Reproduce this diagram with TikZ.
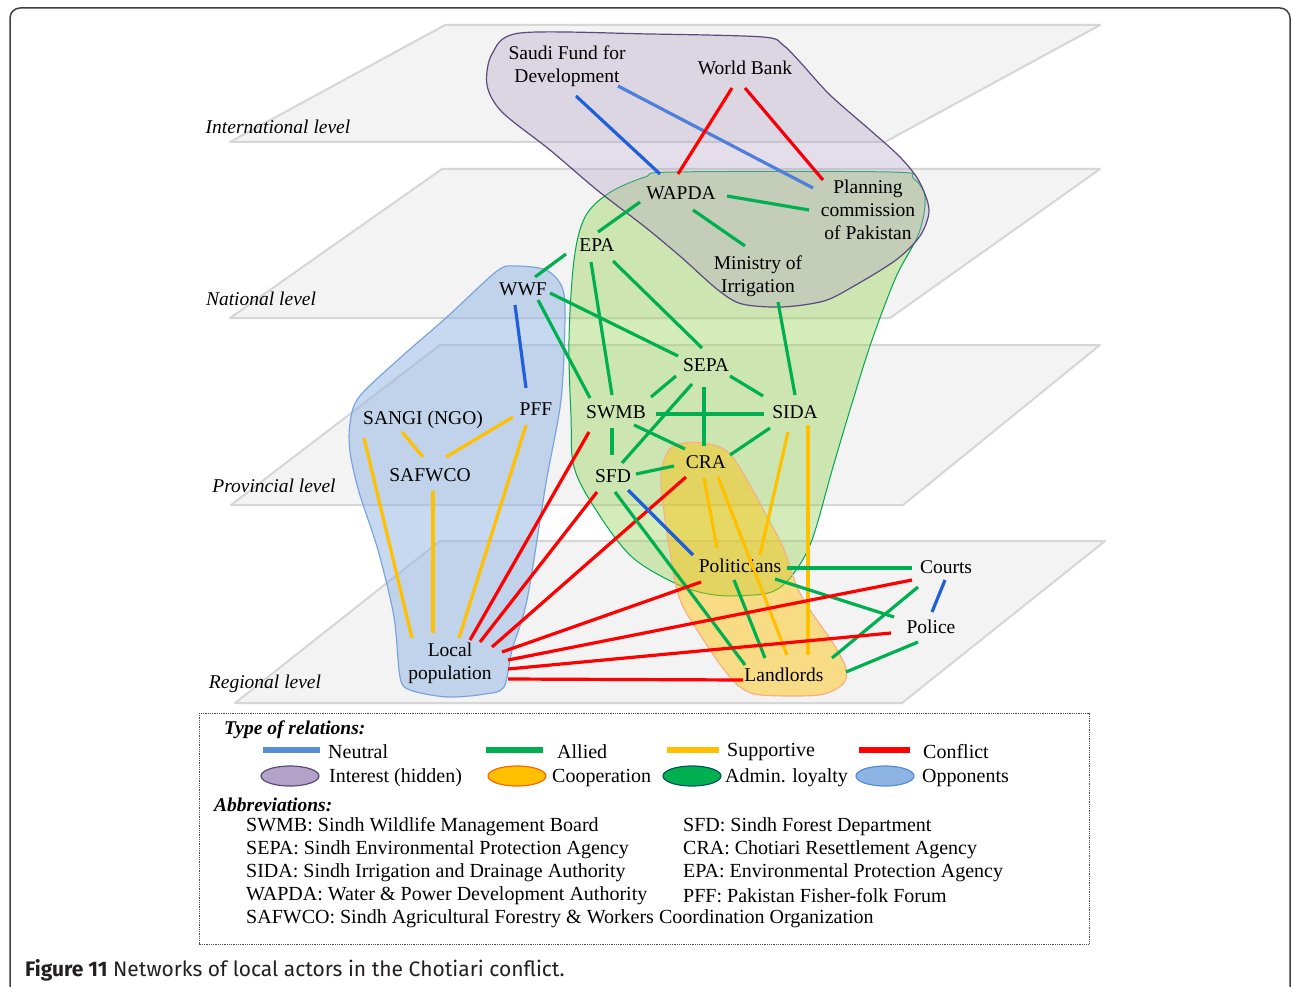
\documentclass[tikz,border=0pt]{standalone}
\usepackage{fontspec}
\setmainfont{Liberation Serif}
\newfontfamily\capfont{Fira Sans}
\definecolor{planefill}{HTML}{F3F3F3}
\definecolor{planeline}{HTML}{D6D6D6}
\definecolor{cgreen}{HTML}{00B050}
\definecolor{corange}{HTML}{FFC000}
\definecolor{cred}{HTML}{FF0000}
\definecolor{cblue}{HTML}{1F5FD8}
\definecolor{cbluetwo}{HTML}{4F7FD8}
\definecolor{legblue}{HTML}{558ED5}
\definecolor{purplefill}{HTML}{B3A2C7}
\definecolor{purpleline}{HTML}{5B4A7D}
\definecolor{greenfill}{HTML}{92D050}
\definecolor{greenline}{HTML}{00A650}
\definecolor{bluefill}{HTML}{8EB4E3}
\definecolor{blueline}{HTML}{7AA5DC}
\definecolor{orangefill}{HTML}{FFC000}
\definecolor{orangeline}{HTML}{F4B183}
\definecolor{framegray}{HTML}{404040}
\definecolor{capgray}{HTML}{231F20}
\begin{document}
\begin{tikzpicture}[x=1pt,y=-1pt,
  actor/.style={font=\fontsize{19.5}{23}\selectfont, align=center, inner sep=0pt},
  lvl/.style={font=\fontsize{19.5}{23}\selectfont\itshape, inner sep=0pt},
  legtext/.style={font=\fontsize{20}{23}\selectfont, anchor=west, inner sep=0pt},
  plane/.style={fill=planefill, draw=planeline, line width=2pt, line join=round},
  al/.style={draw=cgreen, line width=3.2pt},
  sp/.style={draw=corange, line width=3.2pt},
  cf/.style={draw=cred, line width=3.2pt},
  nt/.style={draw=cblue, line width=3.2pt},
  legline/.style={line width=6pt}]
\useasboundingbox (0,0) rectangle (1292,987);
\fill[white] (0,0) rectangle (1292,987);
\begin{scope}
\clip (0,0) rectangle (1292,987);
\draw[line width=1.5pt, draw=framegray, rounded corners=10pt] (10,8) rectangle (1290,1020);
\end{scope}

% planes
\filldraw[plane] (445,25) -- (1100,25) -- (885,142) -- (230,142) -- cycle;
\filldraw[plane] (442,169) -- (1100,169) -- (890,318) -- (230,318) -- cycle;
\filldraw[plane] (440,345) -- (1100,345) -- (903,505) -- (231,505) -- cycle;
\filldraw[plane] (440,541) -- (1105,541) -- (902,703) -- (235,703) -- cycle;

\node[lvl] (lint) at (278,127) {International level};
\node[lvl] (lnat) at (261,299) {National level};
\node[lvl] (lprov) at (274,486) {Provincial level};
\node[lvl] (lreg) at (265,684) {Regional level};

% blobs
\filldraw[fill=greenfill, fill opacity=0.4, draw=greenline, line width=1pt]
  plot[smooth cycle, tension=0.55] coordinates {(574,260) (585,217) (609,193) (645,177) (675,172) (890,172) (913,178) (925,197) (919,233) (896,277) (872,340) (853,400) (833,467) (812,540) (794,573) (776,590) (754,595) (715,595) (679,585) (632,557) (596,510) (574,467) (571,417) (569,340)};
\filldraw[fill=purplefill, fill opacity=0.35, draw=purpleline, line width=1.2pt]
  plot[smooth cycle, tension=0.5] coordinates {(492,54) (520,33) (650,34) (763,37) (783,45) (800,62) (830,95) (870,130) (900,157) (919,181) (929,210) (920,236) (896,260) (854,286) (824,301) (782,307) (742,304) (718,290) (681,257) (645,227) (597,190) (550,150) (502,112) (487,85)};
\filldraw[fill=bluefill, fill opacity=0.5, draw=blueline, line width=1.2pt]
  plot[smooth cycle, tension=0.5] coordinates {(516,266) (497,271) (447,317) (400,358) (359,397) (350,423) (350,452) (359,492) (378,550) (394,617) (400,677) (410,690) (447,697) (485,694) (504,687) (512,650) (527,600) (546,483) (561,400) (565,317) (562,287) (546,270)};
\filldraw[fill=orangefill, fill opacity=0.45, draw=orangeline, line width=1.2pt]
  plot[smooth cycle, tension=0.5] coordinates {(675,445) (704,443) (729,453) (751,487) (765,513) (783,547) (797,587) (812,613) (833,643) (846,668) (843,684) (819,695) (761,695) (740,687) (722,667) (697,630) (679,597) (668,540) (661,483) (664,460)};

% actors
\node[actor] (saudi) at (567,66) {Saudi Fund for\\Development};
\node[actor] (wb) at (745,68) {World Bank};
\node[actor] (wapda) at (681,193) {WAPDA};
\node[actor] (plan) at (868,210) {Planning\\commission\\of Pakistan};
\node[actor] (epa) at (597,245) {EPA};
\node[actor] (min) at (758,276) {Ministry of\\Irrigation};
\node[actor] (wwf) at (523,289) {WWF};
\node[actor] (sepa) at (706,365) {SEPA};
\node[actor] (pff) at (536,409) {PFF};
\node[actor] (sangi) at (423,420) {SANGI (NGO)};
\node[actor] (swmb) at (616,412) {SWMB};
\node[actor] (sida) at (795,412) {SIDA};
\node[actor] (safwco) at (430,475) {SAFWCO};
\node[actor] (sfd) at (613,476) {SFD};
\node[actor] (cra) at (706,462) {CRA};
\node[actor] (pol) at (740,566) {Politicians};
\node[actor] (courts) at (946,567) {Courts};
\node[actor] (police) at (931,627) {Police};
\node[actor] (local) at (450,663) {Local\\population};
\node[actor] (land) at (784,675) {Landlords};

% connectors
\draw[nt] ([shift={(9,30)}]saudi.center) -- ([shift={(-21,-19)}]wapda.center);
\draw[nt, draw=cbluetwo] ([shift={(51,20)}]saudi.center) -- ([shift={(-55,-22)}]plan.center);
\draw[cf] ([shift={(-13,20)}]wb.center) -- ([shift={(-3,-19)}]wapda.center);
\draw[cf, draw=red!85!purple] ([shift={(0,20)}]wb.center) -- ([shift={(-45,-30)}]plan.center);
\draw[al] ([shift={(46,3)}]wapda.center) -- ([shift={(-59,0)}]plan.center);
\draw[al] ([shift={(12,17)}]wapda.center) -- ([shift={(-13,-30)}]min.center);
\draw[al] ([shift={(-41,9)}]wapda.center) -- ([shift={(1,-13)}]epa.center);
\draw[al] ([shift={(-31,9)}]epa.center) -- ([shift={(12,-12)}]wwf.center);
\draw[al] ([shift={(-6,17)}]epa.center) -- ([shift={(-4,-17)}]swmb.center);
\draw[al] ([shift={(16,16)}]epa.center) -- ([shift={(-4,-17)}]sepa.center);
\draw[al] ([shift={(20,26)}]min.center) -- ([shift={(0,-17)}]sida.center);
\draw[nt] ([shift={(-8,16)}]wwf.center) -- ([shift={(-10,-21)}]pff.center);
\draw[al] ([shift={(15,11)}]wwf.center) -- ([shift={(-26,-14)}]swmb.center);
\draw[al] ([shift={(27,4)}]wwf.center) -- ([shift={(-28,-9)}]sepa.center);
\draw[al] ([shift={(-30,11)}]sepa.center) -- ([shift={(35,-15)}]swmb.center);
\draw[al] ([shift={(-14,19)}]sepa.center) -- ([shift={(9,-13)}]sfd.center);
\draw[al] ([shift={(-2,22)}]sepa.center) -- ([shift={(-2,-16)}]cra.center);
\draw[al] ([shift={(24,11)}]sepa.center) -- ([shift={(-32,-16)}]sida.center);
\draw[al] ([shift={(40,2)}]swmb.center) -- ([shift={(-31,2)}]sida.center);
\draw[al] ([shift={(-4,16)}]swmb.center) -- ([shift={(-1,-21)}]sfd.center);
\draw[al] ([shift={(18,13)}]swmb.center) -- ([shift={(-21,-13)}]cra.center);
\draw[al] ([shift={(-25,16)}]sida.center) -- ([shift={(24,-7)}]cra.center);
\draw[al] ([shift={(23,-2)}]sfd.center) -- ([shift={(-32,4)}]cra.center);
\draw[sp] ([shift={(-21,12)}]sangi.center) -- ([shift={(-7,-18)}]safwco.center);
\draw[sp] ([shift={(-23,8)}]pff.center) -- ([shift={(16,-18)}]safwco.center);
\draw[sp] ([shift={(-59,18)}]sangi.center) -- ([shift={(-38,-25)}]local.center);
\draw[sp] ([shift={(3,16)}]safwco.center) -- ([shift={(-17,-30)}]local.center);
\draw[sp] ([shift={(-10,16)}]pff.center) -- ([shift={(9,-25)}]local.center);
\draw[cf] ([shift={(-27,20)}]swmb.center) -- ([shift={(20,-23)}]local.center);
\draw[cf] ([shift={(-16,16)}]sfd.center) -- ([shift={(30,-21)}]local.center);
\draw[cf] ([shift={(-20,15)}]cra.center) -- ([shift={(42,-16)}]local.center);
\draw[nt] ([shift={(15,14)}]sfd.center) -- ([shift={(-47,-11)}]pol.center);
\draw[al] ([shift={(2,16)}]sfd.center) -- ([shift={(-39,-10)}]land.center);
\draw[sp] ([shift={(-2,16)}]cra.center) -- ([shift={(-23,-18)}]pol.center);
\draw[sp] ([shift={(12,15)}]cra.center) -- ([shift={(3,-20)}]land.center);
\draw[sp] ([shift={(-7,20)}]sida.center) -- ([shift={(20,-11)}]pol.center);
\draw[sp] ([shift={(13,13)}]sida.center) -- ([shift={(24,-20)}]land.center);
\draw[al] ([shift={(47,2)}]pol.center) -- ([shift={(-34,1)}]courts.center);
\draw[al] ([shift={(-6,14)}]pol.center) -- ([shift={(-19,-17)}]land.center);
\draw[al] ([shift={(35,13)}]pol.center) -- ([shift={(-37,-10)}]police.center);
\draw[nt] ([shift={(-1,13)}]courts.center) -- ([shift={(1,-15)}]police.center);
\draw[al] ([shift={(-28,20)}]courts.center) -- ([shift={(48,-17)}]land.center);
\draw[al] ([shift={(-13,15)}]police.center) -- ([shift={(62,-3)}]land.center);
\draw[cf] ([shift={(-39,16)}]pol.center) -- ([shift={(52,-11)}]local.center);
\draw[cf] ([shift={(-34,13)}]courts.center) -- ([shift={(58,-3)}]local.center);
\draw[cf] ([shift={(-40,6)}]police.center) -- ([shift={(58,6)}]local.center);
\draw[cf] ([shift={(-41,5)}]land.center) -- ([shift={(58,16)}]local.center);

% legend
\draw[densely dotted, draw=black!70, line width=0.8pt] (199,713) rectangle (1089,944);
\node[legtext, font=\fontsize{19.5}{23}\selectfont\bfseries\itshape] (tor) at (224,730) {Type of relations:};
\coordinate (n1) at (263,750); \coordinate (n2) at (320,750);
\draw[legline, draw=legblue] (n1) -- (n2);
\node[legtext] (tneu) at (328,752) {Neutral};
\coordinate (a1) at (486,750); \coordinate (a2) at (543,750);
\draw[legline, draw=cgreen] (a1) -- (a2);
\node[legtext] (tall) at (557,752) {Allied};
\coordinate (s1) at (667,750); \coordinate (s2) at (719,750);
\draw[legline, draw=corange] (s1) -- (s2);
\node[legtext] (tsup) at (727,752) {Supportive};
\coordinate (c1) at (859,750); \coordinate (c2) at (910,750);
\draw[legline, draw=cred] (c1) -- (c2);
\node[legtext] (tcon) at (923,752) {Conflict};

\filldraw[fill=purplefill, draw=purpleline, line width=1.2pt] (290,776) ellipse [x radius=29, y radius=10];
\node[legtext] (tint) at (329,778) {Interest (hidden)};
\filldraw[fill=orangefill, draw=orange!80!red, line width=1.2pt] (517,776) ellipse [x radius=29, y radius=10];
\node[legtext] (tcoop) at (552,778) {Cooperation};
\filldraw[fill=cgreen, draw=teal!70!black, line width=1.2pt] (692,776) ellipse [x radius=29, y radius=10];
\node[legtext] (tadm) at (725,778) {Admin. loyalty};
\filldraw[fill=bluefill, draw=legblue, line width=1.2pt] (885,776) ellipse [x radius=29, y radius=10];
\node[legtext] (topp) at (922,778) {Opponents};

\node[legtext, font=\fontsize{19.5}{23}\selectfont\bfseries\itshape] (abbr) at (214,805) {Abbreviations:};
\node[legtext] (ab1) at (246,827) {SWMB: Sindh Wildlife Management Board};
\node[legtext] (ab2) at (246,850) {SEPA: Sindh Environmental Protection Agency};
\node[legtext] (ab3) at (246,873) {SIDA: Sindh Irrigation and Drainage Authority};
\node[legtext] (ab4) at (246,896) {WAPDA: Water \& Power Development Authority};
\node[legtext] (ab5) at (246,919) {SAFWCO: Sindh Agricultural Forestry \& Workers Coordination Organization};
\node[legtext] (ab6) at (683,827) {SFD: Sindh Forest Department};
\node[legtext] (ab7) at (683,850) {CRA: Chotiari Resettlement Agency};
\node[legtext] (ab8) at (683,873) {EPA: Environmental Protection Agency};
\node[legtext] (ab9) at (683,896) {PFF: Pakistan Fisher-folk Forum};

\node[anchor=west, inner sep=0pt, font=\capfont\fontsize{21}{24}\selectfont, text=capgray] (cap) at (25,970) {\textbf{Figure 11} Networks of local actors in the Chotiari conflict.};
\end{tikzpicture}
\end{document}
